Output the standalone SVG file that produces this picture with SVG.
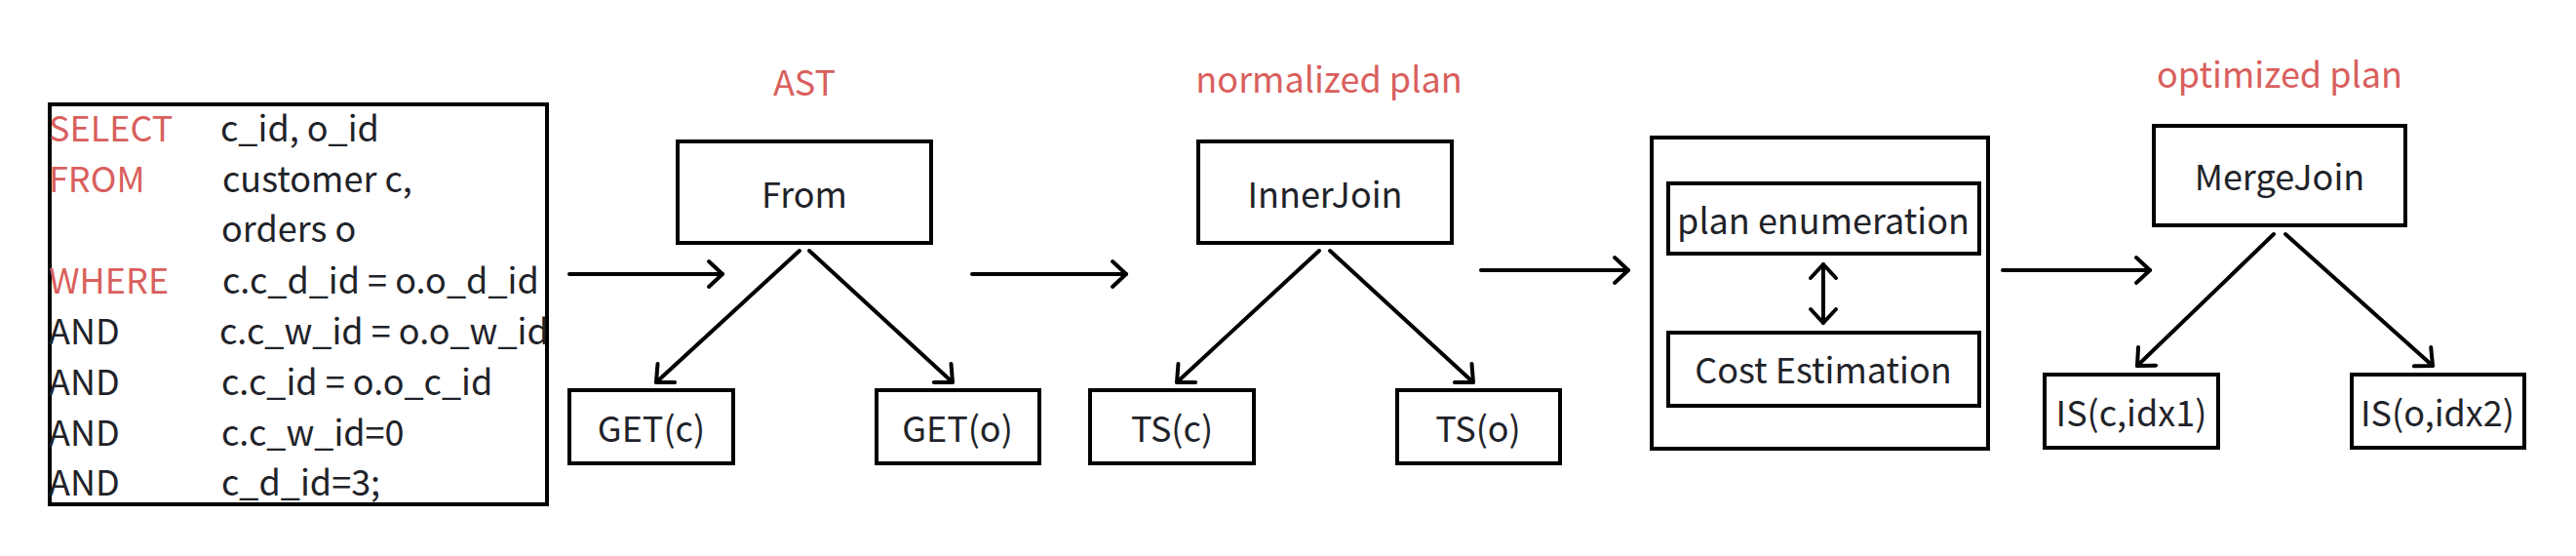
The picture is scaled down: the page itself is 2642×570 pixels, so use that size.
<svg xmlns="http://www.w3.org/2000/svg" width="2642" height="570" viewBox="0 0 2642 570">
<style>
.bg{fill:#fff}
.box{fill:none;stroke:#000;stroke-width:4}
.t{font-family:"Noto Sans CJK SC","Source Han Sans SC","Noto Sans",sans-serif;font-size:36px;fill:#1f2329}
.c{text-anchor:middle}
.red{fill:#d95f5d}
.ln{fill:none;stroke:#000;stroke-width:4;stroke-linecap:round}
</style>
<defs>
<marker id="ah" markerWidth="40" markerHeight="40" refX="20" refY="20" orient="auto-start-reverse" markerUnits="userSpaceOnUse" overflow="visible">
<path d="M6,7 L20,20 L6,33" fill="none" stroke="#000" stroke-width="4" stroke-linecap="round" stroke-linejoin="round"/>
</marker>
</defs>
<rect class="bg" x="0" y="0" width="2642" height="570"/>

<g id="sql">
<rect class="box" x="51" y="107" width="510" height="410"/>
<text class="t red" x="50" y="145">SELECT</text>
<text class="t" x="226" y="145">c_id, o_id</text>
<text class="t red" x="50" y="197">FROM</text>
<text class="t" x="228" y="197">customer c,</text>
<text class="t" x="227" y="248">orders o</text>
<text class="t red" x="50" y="301">WHERE</text>
<text class="t" x="228" y="301">c.c_d_id = o.o_d_id</text>
<text class="t" x="50" y="353">AND</text>
<text class="t" x="225" y="353">c.c_w_id = o.o_w_id</text>
<text class="t" x="50" y="405">AND</text>
<text class="t" x="227" y="405">c.c_id = o.o_c_id</text>
<text class="t" x="50" y="457">AND</text>
<text class="t" x="227" y="457">c.c_w_id=0</text>
<text class="t" x="50" y="508">AND</text>
<text class="t" x="227" y="508">c_d_id=3;</text>
</g>

<g id="labels">
<text class="t red c" x="825" y="98">AST</text>
<text class="t red c" x="1363" y="95">normalized plan</text>
<text class="t red c" x="2338" y="90">optimized plan</text>
</g>

<g id="from">
<rect class="box" x="695" y="145" width="260" height="104"/>
<text class="t c" x="825" y="213">From</text>
</g>
<g id="getc">
<rect class="box" x="584" y="400" width="168" height="75"/>
<text class="t c" x="668" y="453">GET(c)</text>
</g>
<g id="geto">
<rect class="box" x="899" y="400" width="167" height="75"/>
<text class="t c" x="982" y="453">GET(o)</text>
</g>

<g id="innerjoin">
<rect class="box" x="1229" y="145" width="260" height="104"/>
<text class="t c" x="1359" y="213">InnerJoin</text>
</g>
<g id="tsc">
<rect class="box" x="1118" y="400" width="168" height="75"/>
<text class="t c" x="1202" y="453">TS(c)</text>
</g>
<g id="tso">
<rect class="box" x="1433" y="400" width="167" height="75"/>
<text class="t c" x="1516" y="453">TS(o)</text>
</g>

<g id="optimizer">
<rect class="box" x="1694" y="141" width="345" height="319"/>
</g>
<g id="planenum">
<rect class="box" x="1711" y="188" width="319" height="72"/>
<text class="t c" x="1870" y="240">plan enumeration</text>
</g>
<g id="costest">
<rect class="box" x="1711" y="341" width="319" height="75"/>
<text class="t c" x="1870" y="393">Cost Estimation</text>
</g>

<g id="mergejoin">
<rect class="box" x="2209" y="129" width="258" height="102"/>
<text class="t c" x="2338" y="195">MergeJoin</text>
</g>
<g id="isc">
<rect class="box" x="2097" y="384" width="178" height="75"/>
<text class="t c" x="2186" y="437">IS(c,idx1)</text>
</g>
<g id="iso">
<rect class="box" x="2412" y="384" width="177" height="75"/>
<text class="t c" x="2500" y="437">IS(o,idx2)</text>
</g>

<g id="connectors">
<line class="ln" x1="584" y1="281" x2="741" y2="281" marker-end="url(#ah)"/>
<line class="ln" x1="997" y1="281" x2="1155" y2="281" marker-end="url(#ah)"/>
<line class="ln" x1="1519" y1="277" x2="1670" y2="277" marker-end="url(#ah)"/>
<line class="ln" x1="2054" y1="277" x2="2205" y2="277" marker-end="url(#ah)"/>
<line class="ln" x1="1870" y1="271" x2="1870" y2="331" marker-start="url(#ah)" marker-end="url(#ah)"/>
<line class="ln" x1="820" y1="257" x2="673" y2="392" marker-end="url(#ah)"/>
<line class="ln" x1="830" y1="257" x2="977" y2="392" marker-end="url(#ah)"/>
<line class="ln" x1="1353" y1="257" x2="1207" y2="392" marker-end="url(#ah)"/>
<line class="ln" x1="1364" y1="257" x2="1511" y2="392" marker-end="url(#ah)"/>
<line class="ln" x1="2332" y1="240" x2="2192" y2="375" marker-end="url(#ah)"/>
<line class="ln" x1="2344" y1="240" x2="2495" y2="375" marker-end="url(#ah)"/>
</g>
</svg>
